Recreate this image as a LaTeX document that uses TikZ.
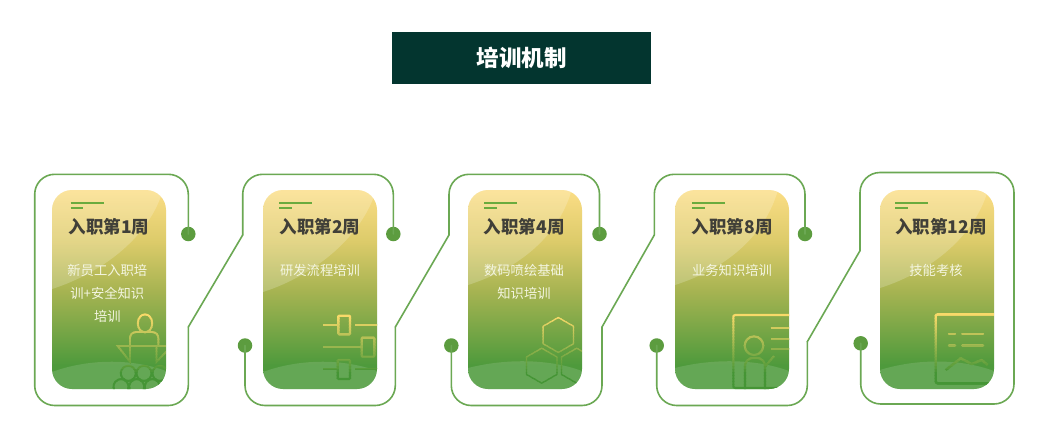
\documentclass[tikz,border=0pt]{standalone}
\usepackage{fontspec}
\setmainfont{Noto Sans CJK SC}
\definecolor{deep}{HTML}{03352F}
\definecolor{wire}{HTML}{6BA853}
\definecolor{dotc}{HTML}{5C9C3F}
\definecolor{accent}{HTML}{6AAB3E}
\definecolor{heading}{HTML}{403F38}
\definecolor{bodyc}{HTML}{F4F6E2}
\definecolor{iy}{HTML}{F8D969}
\definecolor{ig}{HTML}{459535}
\definecolor{gTop}{HTML}{FBDD85}
\definecolor{gA}{HTML}{DCCB6A}
\definecolor{gB}{HTML}{A8B452}
\definecolor{gBot}{HTML}{4E9A3C}
\pgfdeclareverticalshading{cardgrad}{100bp}{color(0bp)=(gBot); color(31bp)=(gBot); color(50bp)=(gB); color(62bp)=(gA); color(75bp)=(gTop); color(100bp)=(gTop)}
\tikzset{
  card/.style={shade,shading=cardgrad,rounded corners=20pt,minimum width=114pt,minimum height=199pt,inner sep=0pt},
  wireline/.style={draw=wire,line width=1.6pt,rounded corners=20pt,line cap=round},
  dotn/.style={circle,fill=dotc,minimum size=14.5pt,inner sep=0pt},
  titlebox/.style={fill=deep,text=white,minimum width=259pt,minimum height=52pt,inner sep=0pt,font=\fontsize{22.5}{26}\selectfont\bfseries},
  headn/.style={text=heading,inner sep=0pt,font=\fontsize{17.5}{20}\selectfont\bfseries},
  bodyn/.style={text=bodyc,inner sep=0pt,align=center,font=\fontsize{13.3}{23}\selectfont},
  accentl/.style={draw=accent,line width=1.6pt}
}
\newcommand\iconA{
  \begin{scope}[line width=1.9pt]
  \draw[icocol] (145,323.3) ellipse (7.2 and 9);
  \draw[icocol,rounded corners=6pt] (130,346) -- (130,332) -- (158.3,332) -- (158.3,346);
  \draw[icocol] (167,346) -- (117.7,346) -- (130,361.7) -- (130,346);
  \draw[icocol] (156.5,346) -- (156.5,361.7) -- (167,351);
  \foreach \cx in {128.3,144,160}{\draw[icocol] (\cx,373.3) circle (7.5);}
  \foreach \cx in {121,136.7,152.3}{\draw[icocol] (\cx,386.7) circle (7.5);}
  \end{scope}
}
\newcommand\iconB{
  \begin{scope}[line width=2.4pt]
  \draw[icocol] (323.3,325) -- (338.3,325);
  \draw[icocol,rounded corners=1pt] (338.3,315.7) rectangle (350,334.3);
  \draw[icocol] (355,325) -- (378,325);
  \draw[icocol] (323.3,347) -- (361.7,347);
  \draw[icocol,rounded corners=1pt] (361.7,337.7) rectangle (374.3,356.7);
  \draw[icocol] (323.3,369) -- (337.7,369);
  \draw[icocol,rounded corners=1pt] (337.7,360) rectangle (350,379);
  \draw[icocol] (355,369) -- (378,369);
  \end{scope}
}
\newcommand\hexa[2]{\draw[icocol,line width=1.3pt,line join=round] (#1,#2-17.5) -- (#1+15.2,#2-8.75) -- (#1+15.2,#2+8.75) -- (#1,#2+17.5) -- (#1-15.2,#2+8.75) -- (#1-15.2,#2-8.75) -- cycle;}
\newcommand\iconC{\hexa{558.3}{335}\hexa{541.7}{365.7}\hexa{576.7}{365.7}}
\newcommand\iconD{
  \begin{scope}[line width=2.1pt]
  \draw[icocol,rounded corners=2pt] (795,315) -- (733.3,315) -- (733.3,388) -- (795,388);
  \draw[icocol] (770.7,328.3) -- (790,328.3);
  \draw[icocol] (770.7,339) -- (790,339);
  \draw[icocol] (770.7,349.3) -- (790,349.3);
  \draw[icocol] (754,345.7) circle (9.3);
  \draw[icocol,rounded corners=8pt] (745,392) -- (745,358) -- (765,358) -- (765,392);
  \draw[icocol] (765,366.7) -- (774,356);
  \end{scope}
}
\newcommand\iconE{
  \begin{scope}[line width=2.4pt]
  \draw[icocol,rounded corners=2pt] (1000,314.3) -- (935.7,314.3) -- (935.7,383.3) -- (1000,383.3);
  \draw[icocol,line cap=round] (949,333.7) -- (955,333.7);
  \draw[icocol,line cap=round] (962.3,333.7) -- (983,333.7);
  \draw[icocol,line cap=round] (949,345.3) -- (955,345.3);
  \draw[icocol,line cap=round] (962.3,345.3) -- (983,345.3);
  \draw[icocol,line join=round] (945.7,370) -- (960.7,358.3) -- (971.7,364) -- (981.7,360) -- (987.7,365);
  \end{scope}
}
% #1 left, #2 sheen left y, #3 sheen top x, #4 arc left y, #5 icon
\newcommand\cardart[5]{
  \begin{scope}
    \pgfmathsetmacro\xr{#1+114}
    \clip[rounded corners=20pt] (#1,190) rectangle (\xr,389);
    \fill[white,opacity=.2] (#1,190) -- (#1,#2) .. controls (#1+53,#2-17) and (#3-13,235) .. (#3,190) -- cycle;
    \fill[white,opacity=.13] (#1,#4) .. controls (#1+35,359) and (\xr-35,358) .. (\xr,371) -- (\xr,389) -- (#1,389) -- cycle;
    \foreach \i in {0,...,27}{
      \pgfmathsetmacro\yy{312+3*\i}
      \pgfmathsetmacro\pct{round(max(0,min(100,100*(372-\yy)/57)))}
      \colorlet{icocol}{iy!\pct!ig}
      \begin{scope}
        \clip (#1,\yy) rectangle (\xr,\yy+3.4);
        #5
      \end{scope}
    }
  \end{scope}
}
\begin{document}
\begin{tikzpicture}[x=1pt,y=-1pt]
\useasboundingbox (0,0) rectangle (1055,447);
\fill[white] (0,0) rectangle (1055,447);
\node[titlebox] (title) at (521.5,58) {\raisebox{-1pt}{培训机制}};

% dots
\node[dotn] (o1) at (188.3,234) {};
\node[dotn] (i2) at (245,345.5) {};
\node[dotn] (o2) at (393.3,234) {};
\node[dotn] (i3) at (451.3,345.5) {};
\node[dotn] (o3) at (599.5,234) {};
\node[dotn] (i4) at (656.7,345.5) {};
\node[dotn] (o4) at (805,234) {};
\node[dotn] (i5) at (860.7,343.3) {};

% bend points of the connectors
\coordinate (a1) at (188.3,327);
\coordinate (b1) at (242.7,235);
\coordinate (a2) at (395.3,327);
\coordinate (b2) at (449,235);
\coordinate (a3) at (602,327);
\coordinate (b3) at (654.3,235);
\coordinate (a4) at (807.3,341.7);
\coordinate (b4) at (860,250.7);

% connectors
\draw[wireline] (o1.center) -- (188.3,174.3) -- (34.7,174.3) -- (34.7,405.5) -- (188.3,405.5) -- (a1);
\draw[wireline] (a1) -- (b1);
\draw[wireline] (b1) -- (242.7,174.3) -- (393.3,174.3) -- (o2.center);
\draw[wireline] (i2.center) -- (245,405.5) -- (395.3,405.5) -- (a2);
\draw[wireline] (a2) -- (b2);
\draw[wireline] (b2) -- (449,174.3) -- (599.5,174.3) -- (o3.center);
\draw[wireline] (i3.center) -- (451.3,405.5) -- (602,405.5) -- (a3);
\draw[wireline] (a3) -- (b3);
\draw[wireline] (b3) -- (654.3,174.3) -- (805,174.3) -- (o4.center);
\draw[wireline] (i4.center) -- (656.7,405.5) -- (807.3,405.5) -- (a4);
\draw[wireline] (a4) -- (b4);
\draw[wireline] (b4) -- (860,172.5) -- (1014,172.5) -- (1014,404) -- (860.7,404) -- (i5.center);

% cards
\node[card] (c1) at (109,289.5) {};
\node[card] (c2) at (320,289.5) {};
\node[card] (c3) at (525,289.5) {};
\node[card] (c4) at (732,289.5) {};
\node[card] (c5) at (937,289.5) {};
\cardart{52}{289}{163}{372}{\iconA}
\cardart{263}{292}{376}{372}{\iconB}
\cardart{468}{285}{571.7}{368}{\iconC}
\cardart{675}{285}{778}{368}{\iconD}
\cardart{880}{288}{988}{370}{\iconE}

% accents
\foreach \ax in {70.7,279.3,484.3,692.3,895.3}{
  \draw[accentl] (\ax,203) -- (\ax+33,203);
  \draw[accentl] (\ax,208) -- (\ax+12.5,208);
}

% text
\node[headn] (h1) at (109,226.7) {入职第1周};
\node[headn] (h2) at (320,226.7) {入职第2周};
\node[headn] (h3) at (524.3,226.7) {入职第4周};
\node[headn] (h4) at (732.3,226.7) {入职第8周};
\node[headn] (h5) at (941,226.7) {入职第12周};
\node[bodyn,anchor=north] (b1) at (107.3,264) {新员工入职培\\训+安全知识\\培训};
\node[bodyn,anchor=north] (b2) at (320,264) {研发流程培训};
\node[bodyn,anchor=north] (b3) at (524,264) {数码喷绘基础\\知识培训};
\node[bodyn,anchor=north] (b4) at (732,264) {业务知识培训};
\node[bodyn,anchor=north] (b5) at (936,264) {技能考核};
\end{tikzpicture}
\end{document}
